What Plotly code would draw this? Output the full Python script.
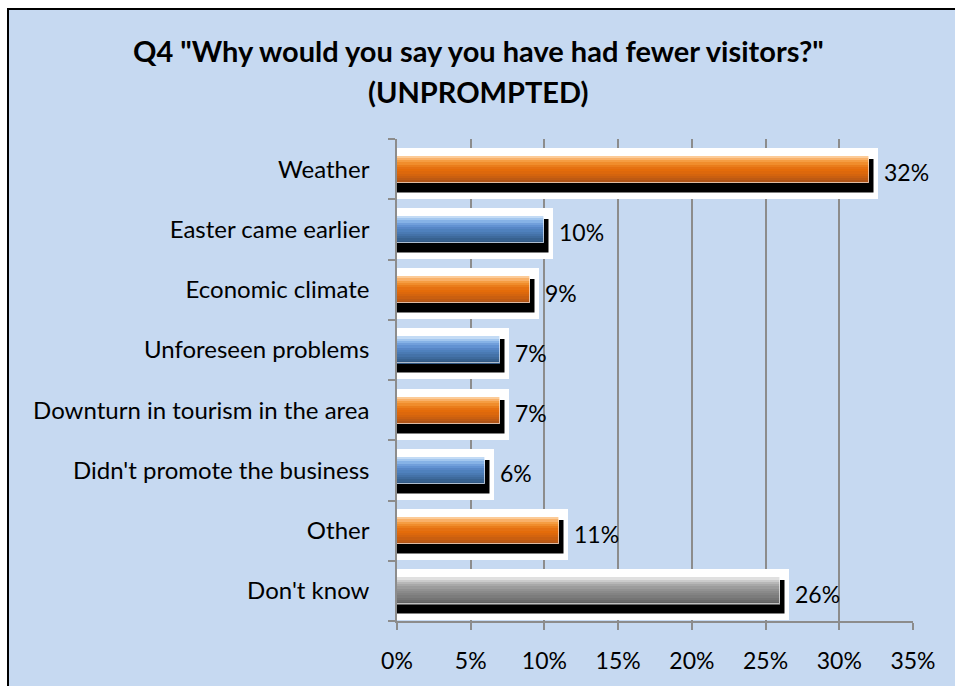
import plotly.graph_objects as go

# Survey responses (share of respondents, %)
categories = [
    "Weather",
    "Easter came earlier",
    "Economic climate",
    "Unforeseen problems",
    "Downturn in tourism in the area",
    "Didn't promote the business",
    "Other",
    "Don't know",
]
values = [32, 10, 9, 7, 7, 6, 11, 26]
colour_group = ["orange", "blue", "orange", "blue", "orange", "blue", "orange", "grey"]
x_ticks = [0, 5, 10, 15, 20, 25, 30, 35]
title_lines = ['Q4 "Why would you say you have had fewer visitors?"', "(UNPROMPTED)"]

# Top-to-bottom shading bands used to fake the glossy bar gradient
palettes = {
    "orange": ["#FCCB97", "#F9B169", "#F59D42", "#F08D2C", "#EA7D1B", "#E57112", "#E46C0A",
               "#DD680C", "#D4640E", "#CA5F10", "#BE5A13", "#B05416"],
    "blue": ["#C3DBF5", "#A3C7EF", "#86B2E6", "#719FDB", "#6292D2", "#5786C6", "#4F81BD",
             "#4A7AB3", "#4472A8", "#3E6A9C", "#386290", "#325984"],
    "grey": ["#E0E0E0", "#CBCBCB", "#B7B7B7", "#A8A8A8", "#9C9C9C", "#929292", "#8A8A8A",
             "#838383", "#7C7C7C", "#747474", "#6B6B6B", "#616161"],
}

FONT = "Lato"
PX_PER_CAT = 60.25          # pixel height of one category band
PX_PER_UNIT = 516 / 35      # pixels per percentage point
BAR_W = 27 / PX_PER_CAT
positions = list(range(len(categories)))

fig = go.Figure()

# white halo around bar + shadow (hides the gridlines close to the bars)
fig.add_trace(go.Bar(
    y=positions, x=[v + 9 / PX_PER_UNIT for v in values], orientation="h",
    width=51 / PX_PER_CAT, offset=-BAR_W / 2 - 8 / PX_PER_CAT,
    marker=dict(color="white", line=dict(width=0)),
    hoverinfo="skip", showlegend=False,
))

# drop shadow behind each bar
shadow_top = -BAR_W / 2 + 3 / PX_PER_CAT
fig.add_trace(go.Bar(
    y=positions, x=[v + 6 / PX_PER_UNIT for v in values], orientation="h",
    width=35 / PX_PER_CAT, offset=shadow_top,
    marker=dict(color="black", line=dict(color="white", width=1.5)),
    hoverinfo="skip", showlegend=False,
))

# glossy bars, built from horizontal bands
n_bands = 12
band_h = BAR_W / n_bands
for group, cols in palettes.items():
    idx = [i for i, g in enumerate(colour_group) if g == group]
    ys = [positions[i] for i in idx]
    xs = [values[i] for i in idx]
    for k, c in enumerate(cols):
        fig.add_trace(go.Bar(
            y=ys, x=xs, orientation="h",
            width=band_h + 0.004, offset=-BAR_W / 2 + k * band_h,
            marker=dict(color=c, line=dict(width=0)),
            hoverinfo="skip", showlegend=False,
        ))
    # thin light outline round the whole bar
    fig.add_trace(go.Bar(
        y=ys, x=xs, orientation="h", width=BAR_W, offset=-BAR_W / 2,
        marker=dict(color="rgba(0,0,0,0)", line=dict(color="rgba(255,255,255,0.6)", width=1)),
        hoverinfo="skip", showlegend=False,
    ))

# value labels
annotations = [
    dict(x=v, y=p, text=f"{v}%", xref="x", yref="y", showarrow=False,
         xanchor="left", yanchor="middle", xshift=13, yshift=-3,
         font=dict(family=FONT, size=23, color="black"))
    for v, p in zip(values, positions)
]

# two-line title, centred on the chart area
for line, y_px in zip(title_lines, [51, 92]):
    annotations.append(dict(
        x=(478 - 397) / 516, y=(621 - y_px) / 482, xref="paper", yref="paper",
        xanchor="center", yanchor="middle", showarrow=False, text=f"<b>{line}</b>",
        font=dict(family=FONT, size=29, color="black"),
    ))

fig.update_layout(
    width=955, height=686,
    margin=dict(l=397, r=42, t=139, b=65),
    paper_bgcolor="white",
    plot_bgcolor="white",
    barmode="overlay",
    bargap=0,
    annotations=annotations,
    shapes=[dict(
        type="rect", xref="paper", yref="paper", layer="below",
        x0=(8 - 397) / 516, x1=(975 - 397) / 516,
        y0=(621 - 700) / 482, y1=(621 - 9) / 482,
        fillcolor="#C6D9F1", line=dict(color="black", width=2),
    )],
    xaxis=dict(
        range=[0, 35], tickvals=x_ticks, ticktext=[f"{t}%" for t in x_ticks],
        showgrid=True, gridcolor="#8C8C8C", gridwidth=1.5,
        showline=True, linecolor="#8C8C8C", linewidth=1.5,
        ticks="outside", ticklen=7, tickcolor="#8C8C8C", tickwidth=1.5,
        tickfont=dict(family=FONT, size=23, color="black"),
        ticklabelstandoff=12, zeroline=False, fixedrange=True,
    ),
    yaxis=dict(
        range=[len(categories) - 0.5, -0.5],
        tickvals=positions, ticktext=categories, ticks="",
        showgrid=False, showline=True, linecolor="#8C8C8C", linewidth=1.5,
        tickfont=dict(family=FONT, size=24, color="black"),
        ticklabelstandoff=21, zeroline=False, fixedrange=True,
        minor=dict(tickvals=[p - 0.5 for p in positions] + [len(categories) - 0.5],
                   ticks="outside", ticklen=7, tickcolor="#8C8C8C", tickwidth=1.5,
                   showgrid=False),
    ),
)

fig.write_html("out.html")
